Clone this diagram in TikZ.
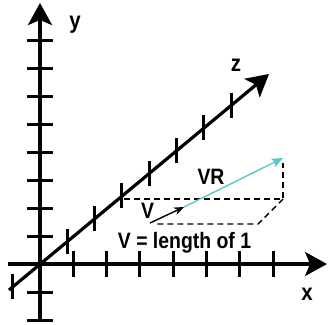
\documentclass[tikz,border=0pt]{standalone}
\usepackage{fontspec}
\newfontfamily\lblfont[FakeStretch=0.87]{Liberation Sans Bold}
\usetikzlibrary{arrows.meta}
\definecolor{vrcyan}{RGB}{94,198,200}
\tikzset{
  axisline/.style={line width=3.2pt,-{Stealth[length=22pt,width=24pt,inset=5pt]}},
  tickmark/.style={line width=3pt},
  dashline/.style={line width=1.4pt,dash pattern=on 6pt off 4pt},
  lbl/.style={font=\lblfont\fontsize{22.3}{26}\selectfont,inner sep=0pt,anchor=base},
  axlbl/.style={font=\lblfont\fontsize{23.5}{27}\selectfont,inner sep=0pt,anchor=base},
  vecv/.style={line width=1.4pt,-{Stealth[length=10pt,width=8pt]}},
  vecvr/.style={line width=1.4pt,draw=vrcyan,-{Stealth[length=11pt,width=9pt,inset=2pt]}}
}
\begin{document}
\begin{tikzpicture}[x=1pt,y=-1pt]
\useasboundingbox (0,0) rectangle (328,324);
% axis end points
\coordinate (O) at (40,264);
\coordinate (ytop) at (40,3);
\coordinate (ybot) at (40,322);
\coordinate (xleft) at (8,264);
\coordinate (xright) at (327,264);
\coordinate (zlow) at (9,290);
\coordinate (ztop) at (269,74);
% ticks
\foreach \k in {-2,-1,1,2,3,4,5,6,7,8}
  \draw[tickmark] (27,{264-28*\k}) -- (53,{264-28*\k});
\foreach \k in {1,...,7}
  \draw[tickmark] ({40+33.3*\k},251) -- ({40+33.3*\k},277);
\foreach \k in {-1,1,2,3,4,5,6,7}
  \draw[tickmark] ({40+27.3*\k},{264-0.8308*27.3*\k-12.5}) -- ({40+27.3*\k},{264-0.8308*27.3*\k+12.5});
% axes
\draw[axisline] (ybot) -- (ytop);
\draw[axisline] (xleft) -- (xright);
\draw[axisline] (zlow) -- (ztop);
% dashed box
\coordinate (b1) at (124,199);
\coordinate (b2) at (283,199);
\coordinate (b3) at (283,163);
\coordinate (b4) at (258,224);
\coordinate (b5) at (156,224);
\draw[dashline] (b1) -- (b2) -- (b3);
\draw[dashline] (b2) -- (b4) -- (b5);
% vectors
\coordinate (vs) at (150,223);
\coordinate (ve) at (184,207);
\coordinate (vr) at (283,158);
\draw[vecvr] (ve) -- (vr);
\draw[vecv] (vs) -- (ve);
% labels
\node[axlbl] (ly) at (75,28.5) {y};
\node[axlbl] (lx) at (307,300) {x};
\node[axlbl] (lz) at (236,71) {z};
\node[lbl] (lv) at (147.5,218.5) {V};
\node[lbl] (lvr) at (211,184.5) {VR};
\node[lbl] (lvl) at (184.5,248.5) {V = length of 1};
\end{tikzpicture}
\end{document}
